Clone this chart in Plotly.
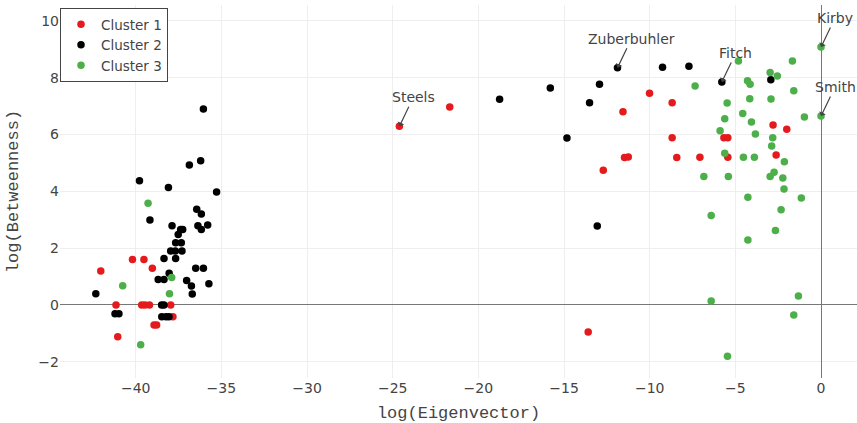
import plotly.graph_objects as go

# ---- data ----
c1_x = [-42.04, -40.19, -39.52, -39.03, -41.15, -39.65, -39.46, -39.20, -37.96, -37.83, -38.93, -38.78, -41.05,
        -24.61, -21.67, -10.01, -8.69, -11.56, -8.69, -11.47, -11.25, -8.42, -7.07, -12.71, -13.59,
        -2.80, -2.00, -5.67, -5.44, -2.62, -5.44]
c1_y = [1.20, 1.60, 1.60, 1.29, 0.0, 0.0, 0.0, 0.0, 0.0, -0.41, -0.70, -0.70, -1.12,
        6.29, 6.97, 7.45, 7.12, 6.80, 5.89, 5.19, 5.21, 5.19, 5.20, 4.74, -0.95,
        6.34, 6.19, 5.89, 5.89, 5.28, 5.20]

c2_x = [-36.05, -36.21, -36.87, -39.78, -38.09, -35.28, -36.44, -36.17, -39.17, -37.88, -36.37, -36.17, -35.80,
        -37.38, -37.26, -37.52, -37.67, -37.34, -37.96, -37.69, -37.30, -38.35, -37.67, -36.50, -36.05,
        -38.05, -38.69, -38.35, -37.03, -36.75, -35.73, -36.70, -42.33, -38.49, -38.35, -41.21, -40.98,
        -38.48, -38.23, -38.06,
        -18.76, -15.80, -14.83, -11.88, -9.25, -7.71, -12.93, -13.51, -13.06,
        -5.79, -2.93]
c2_y = [6.90, 5.08, 4.93, 4.37, 4.14, 3.98, 3.37, 3.20, 2.99, 2.79, 2.79, 2.66, 2.82,
        2.66, 2.66, 2.48, 2.19, 2.19, 1.90, 1.90, 1.90, 1.64, 1.64, 1.29, 1.29,
        1.12, 0.90, 0.90, 0.86, 0.67, 0.75, 0.39, 0.40, 0.0, 0.0, -0.31, -0.31,
        -0.41, -0.41, -0.41,
        7.24, 7.64, 5.88, 8.35, 8.37, 8.40, 7.77, 7.12, 2.78,
        7.85, 7.93]

c3_x = [-39.28, -37.90, -40.76, -38.03, -39.71,
        0.0, -4.82, -1.67, -2.97, -2.55, -4.29, -4.14, -7.35, -1.59, -4.16, -2.92, -5.48,
        0.0, -0.97, -4.57, -5.62, -4.06, -5.89, -3.83, -2.82, -2.88, -5.62, -4.53, -3.89,
        -2.14, -6.84, -5.41, -2.97, -2.74, -2.23, -2.16, -4.27, -1.15, -6.41, -2.33, -2.66,
        -4.27, -1.32, -6.41, -1.59, -5.46]
c3_y = [3.58, 0.97, 0.68, 0.40, -1.40,
        9.08, 8.59, 8.59, 8.18, 8.06, 7.89, 7.77, 7.71, 7.54, 7.26, 7.25, 7.11,
        6.65, 6.62, 6.74, 6.56, 6.44, 6.13, 6.02, 5.89, 5.60, 5.34, 5.20, 5.20,
        5.04, 4.52, 4.52, 4.52, 4.67, 4.47, 4.08, 3.79, 3.77, 3.15, 3.35, 2.62,
        2.29, 0.32, 0.14, -0.35, -1.80]

label_names = ["Steels", "Zuberbuhler", "Fitch", "Kirby", "Smith"]
label_x = [-24.61, -11.88, -5.79, 0.0, 0.0]
label_y = [6.29, 8.35, 7.85, 9.08, 6.65]

series_names = ["Cluster 1", "Cluster 2", "Cluster 3"]
series_colors = ["#E41A1C", "#000000", "#4DAF4A"]

x_tick_vals = [-40, -35, -30, -25, -20, -15, -10, -5, 0]
y_tick_vals = [-2, 0, 2, 4, 6, 8, 10]

# ---- figure ----
fig = go.Figure()
for name, color, xs, ys in zip(series_names, series_colors,
                               [c1_x, c2_x, c3_x], [c1_y, c2_y, c3_y]):
    fig.add_trace(go.Scatter(x=xs, y=ys, mode="markers", name=name,
                             marker=dict(color=color, size=7.5)))

for n, x, y in zip(label_names, label_x, label_y):
    fig.add_annotation(x=x, y=y, text=n, showarrow=True, arrowhead=1,
                       arrowcolor="#444", arrowwidth=1.2, ax=14, ay=-29,
                       font=dict(size=14, color="#444", family="DejaVu Sans"))

axis_common = dict(showgrid=True, gridcolor="#eee", gridwidth=1,
                   zeroline=True, zerolinecolor="#777", zerolinewidth=1.2,
                   showline=False, ticks="", automargin=False,
                   tickfont=dict(family="DejaVu Sans", size=14, color="#444"))

fig.update_xaxes(range=[-44.42, 2.1], tickvals=x_tick_vals,
                 title=dict(text="log(Eigenvector)",
                            font=dict(family="Courier New, Liberation Mono, monospace", size=17, color="#444")),
                 **axis_common)
fig.update_yaxes(range=[-2.57, 10.56], tickvals=y_tick_vals,
                 title=dict(text="log(Betweenness)",
                            font=dict(family="Courier New, Liberation Mono, monospace", size=17, color="#444")),
                 **axis_common)

fig.update_layout(
    width=857, height=423,
    margin=dict(l=60, r=0, t=5, b=45, autoexpand=False),
    paper_bgcolor="white", plot_bgcolor="white",
    font=dict(family="DejaVu Sans", size=14, color="#444"),
    legend=dict(x=0.0, y=0.992, xanchor="left", yanchor="top",
                bgcolor="white", bordercolor="#444", borderwidth=1,
                font=dict(size=13.5, family="DejaVu Sans", color="#444")),
    showlegend=True,
)

fig.write_html("out.html", config={"displayModeBar": False},
               post_script="document.body.style.margin='0';document.body.style.overflow='hidden';")
